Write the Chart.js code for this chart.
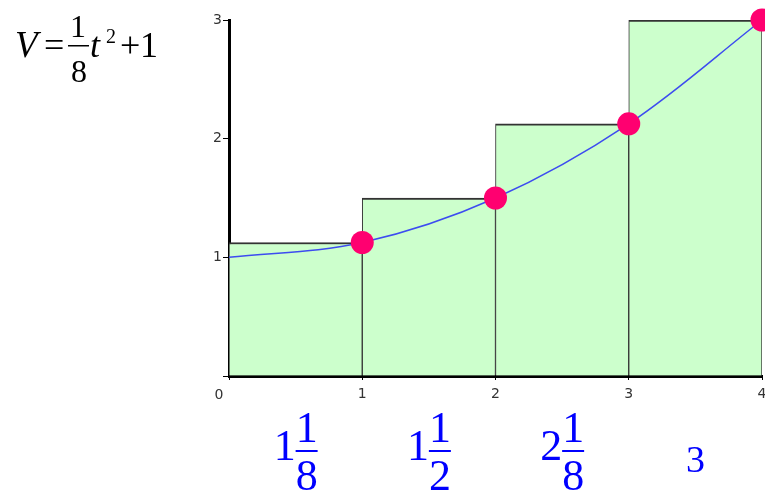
<!DOCTYPE html>
<html>
<head>
<meta charset="utf-8">
<script src="https://cdn.jsdelivr.net/npm/chart.js@4"></script>
<style>
  body { margin: 0; background: #fff; }
  canvas { display: block; }
</style>
</head>
<body>
<canvas id="myChart" width="765" height="495"></canvas>
<script>
// curve V = t^2/8 + 1 sampled at whole seconds
const tValues = [0, 1, 2, 3, 4];
const vValues = [1, 1.125, 1.5, 2.125, 3];
// right-endpoint rectangles
const barStarts = [0, 1, 2, 3];
const barHeights = [1.125, 1.5, 2.125, 3];
const xTicks = [0, 1, 2, 3, 4];
const yTicks = [0, 1, 2, 3];

function toMixed(v) {
  const whole = Math.floor(v);
  const rem = v - whole;
  for (const den of [2, 4, 8]) {
    const num = rem * den;
    if (rem > 0 && Math.abs(num - Math.round(num)) < 1e-9) {
      return { whole: whole, num: Math.round(num), den: den };
    }
  }
  return { whole: whole, num: 0, den: 1 };
}

const serif = '"Liberation Serif", "Times New Roman", serif';

const textPlugin = {
  id: 'textPlugin',
  afterDraw(chart) {
    const ctx = chart.ctx;
    const xs = chart.scales.x;
    ctx.save();
    ctx.fillStyle = '#000';
    ctx.textBaseline = 'alphabetic';

    // formula
    ctx.textAlign = 'left';
    ctx.font = 'italic 37px ' + serif;
    ctx.fillText('V', 15, 57);
    ctx.font = '36px ' + serif;
    ctx.fillText('=', 44, 57);
    ctx.textAlign = 'center';
    ctx.font = '32px ' + serif;
    ctx.fillText('1', 78, 37);
    ctx.fillText('8', 79, 82);
    ctx.fillRect(68, 45, 21, 1.5);
    ctx.textAlign = 'left';
    ctx.font = 'italic 36px ' + serif;
    ctx.fillText('t', 90, 57);
    ctx.font = '20px ' + serif;
    ctx.fillText('2', 106, 43);
    ctx.font = '36px ' + serif;
    ctx.fillText('+', 120, 57);
    ctx.fillText('1', 140, 57);

    // origin label
    ctx.font = '14px "DejaVu Sans", sans-serif';
    ctx.fillStyle = '#333';
    ctx.textAlign = 'center';
    ctx.fillText('0', 219, 399);

    // rectangle heights under each bar
    ctx.fillStyle = '#0000ff';
    barStarts.forEach((s, i) => {
      const cx = xs.getPixelForValue(s + 0.5);
      const m = toMixed(barHeights[i]);
      if (m.num === 0) {
        ctx.font = '38px ' + serif;
        ctx.textAlign = 'center';
        ctx.fillText(String(m.whole), cx, 472);
        return;
      }
      ctx.font = '44px ' + serif;
      const ww = ctx.measureText(String(m.whole)).width;
      const fw = Math.max(ctx.measureText(String(m.num)).width, ctx.measureText(String(m.den)).width);
      const left = cx - (ww + fw) / 2;
      ctx.textAlign = 'left';
      ctx.fillText(String(m.whole), left, 460);
      const fx = left + ww;
      ctx.fillRect(fx, 450, fw, 2);
      ctx.textAlign = 'center';
      ctx.fillText(String(m.num), fx + fw / 2, 442);
      ctx.fillText(String(m.den), fx + fw / 2, 490);
    });
    ctx.restore();
  }
};

const ctx = document.getElementById('myChart').getContext('2d');
new Chart(ctx, {
  type: 'bar',
  data: {
    datasets: [
      {
        type: 'scatter',
        data: barHeights.map((h, i) => ({ x: barStarts[i] + 1, y: h })),
        pointRadius: 11.5,
        pointHoverRadius: 11.5,
        backgroundColor: '#ff0070',
        borderWidth: 0,
        clip: false,
        order: 1
      },
      {
        type: 'line',
        data: tValues.map((t, i) => ({ x: t, y: vValues[i] })),
        borderColor: '#3d4cf0',
        borderWidth: 1.5,
        pointRadius: 0,
        tension: 0.35,
        fill: false,
        clip: false,
        order: 2
      },
      {
        type: 'bar',
        data: barHeights.map((h, i) => ({ x: barStarts[i] + 0.5, y: h })),
        backgroundColor: '#ccffcc',
        borderColor: '#333',
        borderWidth: { top: 2, left: 1, right: 1, bottom: 0 },
        barPercentage: 1,
        categoryPercentage: 1,
        order: 3
      }
    ]
  },
  options: {
    responsive: false,
    animation: false,
    events: [],
    layout: { autoPadding: false, padding: { top: 20, right: 3, left: 0, bottom: 0 } },
    plugins: { legend: { display: false }, tooltip: { enabled: false } },
    scales: {
      x: {
        type: 'linear',
        min: 0,
        max: 4,
        offset: false,
        z: 1,
        afterBuildTicks: s => { s.ticks = xTicks.map(v => ({ value: v })); },
        afterFit: s => { s.height = 119; s.paddingLeft = 0; s.paddingRight = 0; },
        border: { color: '#000', width: 3 },
        grid: { offset: false, drawOnChartArea: false, tickLength: 4, color: '#000' },
        ticks: {
          padding: 6,
          color: '#333',
          font: { family: '"DejaVu Sans", sans-serif', size: 14 },
          callback: v => (v === 0 ? '' : v)
        }
      },
      y: {
        min: 0,
        max: 3,
        z: 1,
        afterBuildTicks: s => { s.ticks = yTicks.map(v => ({ value: v })); },
        afterFit: s => { s.width = 229; s.paddingTop = 0; s.paddingBottom = 0; },
        border: { color: '#000', width: 3 },
        grid: { drawOnChartArea: false, tickLength: 6, color: '#000' },
        ticks: {
          padding: 1,
          color: '#333',
          font: { family: '"DejaVu Sans", sans-serif', size: 14 },
          callback: v => (v === 0 ? '' : v)
        }
      }
    }
  },
  plugins: [textPlugin]
});
</script>
</body>
</html>
